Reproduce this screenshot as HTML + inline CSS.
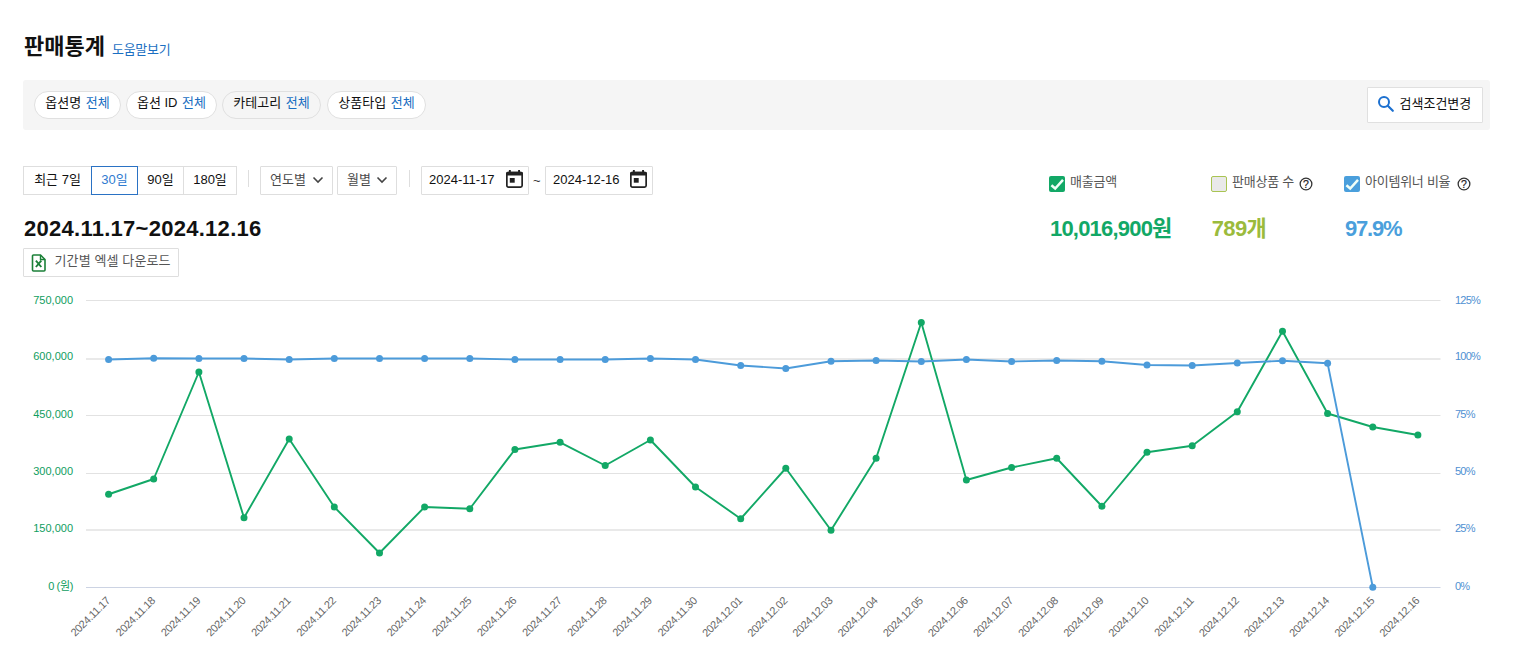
<!DOCTYPE html>
<html lang="ko">
<head>
<meta charset="utf-8">
<title>판매통계</title>
<style>
*{box-sizing:border-box;margin:0;padding:0}
html,body{width:1523px;height:660px;overflow:hidden;background:#fff}
body{position:relative;font-family:"Liberation Sans","Noto Sans CJK KR",sans-serif;font-size:13px;color:#111;line-height:1}
.abs{position:absolute;white-space:nowrap}
h1.title{left:24px;top:33px;font-size:22px;font-weight:bold;line-height:28px;color:#111;letter-spacing:0}
a.help{left:112px;top:40.5px;font-size:13px;line-height:18px;color:#1b6fc2;text-decoration:none;letter-spacing:-0.3px}
.bar{left:23px;top:80px;width:1467px;height:50px;background:#f5f5f5;border-radius:3px}
.pill{top:91px;height:28px;border:1px solid #e0e0e0;border-radius:14px;background:#fff;font-size:13px;line-height:22px;text-align:center;color:#111}
.pill b{font-weight:normal;color:#1b6fc2;margin-left:1px}
.pill.hov{background:#f5f5f5}
.sbtn{left:1367px;top:87px;width:116px;height:36px;background:#fff;border:1px solid #e0e0e0;border-radius:1px}
.sbtn span{position:absolute;left:31.5px;top:7px;font-size:13px;line-height:18px;color:#111}
.seg{top:166px;height:29px;border:1px solid #dedede;background:#fff;font-size:13px;line-height:25px;text-align:center;color:#111}
.seg.on{border-color:#2a72c4;color:#2f7bd0;z-index:2}
.vsep{top:170px;width:1px;height:17px;background:#dedede}
.sel{top:166px;height:29px;border:1px solid #dedede;background:#fff;font-size:13px;line-height:25px;color:#4a4a4a;border-radius:1px}
.sel span{position:absolute;left:9px;top:0}
.date{top:166px;width:108px;height:29px;border:1px solid #dedede;background:#fff;font-size:13px;line-height:25px;color:#111;border-radius:1px}
.date span{position:absolute;left:7px;top:0}
.range{left:24px;top:215.5px;font-size:22px;font-weight:bold;line-height:26px;color:#111;letter-spacing:0.27px}
.xl{left:23px;top:248px;width:156px;height:29px;border:1px solid #dedede;background:#fff;border-radius:1px}
.xl span{position:absolute;left:30.5px;top:3.3px;font-size:13px;line-height:18px;color:#555;letter-spacing:0.12px}
.cb{top:176px;width:16px;height:16px;border-radius:2px}
.lbl{top:173px;font-size:13px;line-height:18px;color:#555;letter-spacing:-0.25px}
.val{top:215px;font-size:22px;font-weight:bold;line-height:28px;letter-spacing:-0.6px}
svg{position:absolute;overflow:visible}
svg text{font-family:"Liberation Sans","Noto Sans CJK KR",sans-serif}
</style>
</head>
<body>
<h1 class="abs title">판매통계</h1>
<a class="abs help">도움말보기</a>

<div class="abs bar"></div>
<div class="abs pill" style="left:34px;width:87px">옵션명 <b>전체</b></div>
<div class="abs pill" style="left:126px;width:91px">옵션 ID <b>전체</b></div>
<div class="abs pill hov" style="left:222px;width:99px">카테고리 <b>전체</b></div>
<div class="abs pill" style="left:327px;width:99px">상품타입 <b>전체</b></div>
<div class="abs sbtn">
  <svg width="18" height="18" viewBox="0 0 18 18" style="left:9.3px;top:6.6px"><circle cx="7" cy="7" r="5" fill="none" stroke="#1c70d0" stroke-width="2"/><path d="M10.8 10.8L15.8 15.8" stroke="#1c70d0" stroke-width="2.2" stroke-linecap="round"/></svg>
  <span>검색조건변경</span>
</div>

<div class="abs seg" style="left:23px;width:69px">최근 7일</div>
<div class="abs seg on" style="left:91px;width:47px">30일</div>
<div class="abs seg" style="left:137px;width:47px">90일</div>
<div class="abs seg" style="left:183px;width:54px">180일</div>
<div class="abs vsep" style="left:248px"></div>
<div class="abs sel" style="left:260px;width:73px"><span>연도별</span>
  <svg width="12" height="8" viewBox="0 0 12 8" style="left:51px;top:9.3px"><path d="M1.5 1.5L6 6L10.5 1.5" fill="none" stroke="#444" stroke-width="1.6"/></svg></div>
<div class="abs sel" style="left:337px;width:60px"><span>월별</span>
  <svg width="12" height="8" viewBox="0 0 12 8" style="left:38px;top:9.3px"><path d="M1.5 1.5L6 6L10.5 1.5" fill="none" stroke="#444" stroke-width="1.6"/></svg></div>
<div class="abs vsep" style="left:409px"></div>
<div class="abs date" style="left:421px"><span>2024-11-17</span>
  <svg width="17" height="18" viewBox="0 0 17 18" style="left:84.2px;top:3.1px"><rect x="2.9" y="0" width="1.9" height="3" fill="#222"/><rect x="12.1" y="0" width="1.9" height="3" fill="#222"/><rect x="0.85" y="2.55" width="15.3" height="14.6" rx="1.6" fill="none" stroke="#222" stroke-width="1.7"/><path d="M0 5.4V3.3a1.6 1.6 0 0 1 1.6-1.6h13.8a1.6 1.6 0 0 1 1.6 1.6v2.1z" fill="#222"/><rect x="3.8" y="8" width="4.9" height="4.7" fill="#222"/></svg></div>
<div class="abs" style="left:533px;top:172px;font-size:13px;line-height:18px;color:#333">~</div>
<div class="abs date" style="left:545px"><span>2024-12-16</span>
  <svg width="17" height="18" viewBox="0 0 17 18" style="left:84.2px;top:3.1px"><rect x="2.9" y="0" width="1.9" height="3" fill="#222"/><rect x="12.1" y="0" width="1.9" height="3" fill="#222"/><rect x="0.85" y="2.55" width="15.3" height="14.6" rx="1.6" fill="none" stroke="#222" stroke-width="1.7"/><path d="M0 5.4V3.3a1.6 1.6 0 0 1 1.6-1.6h13.8a1.6 1.6 0 0 1 1.6 1.6v2.1z" fill="#222"/><rect x="3.8" y="8" width="4.9" height="4.7" fill="#222"/></svg></div>

<div class="abs range">2024.11.17~2024.12.16</div>
<div class="abs xl">
  <svg width="16" height="18" viewBox="0 0 16 18" style="left:7px;top:5px"><path d="M2.5 1h7l4.5 4.5V16a1 1 0 0 1-1 1h-10.5a1 1 0 0 1-1-1V2a1 1 0 0 1 1-1z" fill="#fff" stroke="#1b8038" stroke-width="1.6"/><path d="M9.5 1v4.5H14" fill="none" stroke="#1b8038" stroke-width="1.4"/><path d="M4.9 6.6l5.4 6.4M10.3 6.6l-5.4 6.4" stroke="#1b8038" stroke-width="1.9"/></svg>
  <span>기간별 엑셀 다운로드</span>
</div>

<!-- stats -->
<div class="abs cb" style="left:1049px;background:#12a866"><svg width="16" height="16" viewBox="0 0 16 16" style="left:0;top:0"><path d="M2.4 9.2L6.2 12.5L14 3.9" fill="none" stroke="#f0fff8" stroke-width="2.5"/></svg></div>
<div class="abs lbl" style="left:1070px">매출금액</div>
<div class="abs val" style="left:1050px;color:#12a866;letter-spacing:-0.8px">10,016,900원</div>

<div class="abs cb" style="left:1211px;background:#e9e9e9;border:1px solid #a9c452"></div>
<div class="abs lbl" style="left:1232px">판매상품 수</div>
<div class="abs val" style="left:1211.7px;color:#9bbb3c">789개</div>

<div class="abs cb" style="left:1344px;background:#4a9fdc"><svg width="16" height="16" viewBox="0 0 16 16" style="left:0;top:0"><path d="M2.4 9.2L6.2 12.5L14 3.9" fill="none" stroke="#f0fff8" stroke-width="2.5"/></svg></div>
<div class="abs lbl" style="left:1365px">아이템위너 비율</div>
<div class="abs val" style="left:1345px;color:#4a9fdc;letter-spacing:-1.2px">97.9%</div>

<svg width="14" height="14" viewBox="0 0 14 14" style="left:1299px;top:176.7px"><circle cx="7" cy="7" r="5.85" fill="#fff" stroke="#333" stroke-width="1.3"/><text x="7" y="10.7" font-size="10.5" fill="#222" stroke="#222" stroke-width="0.2" text-anchor="middle">?</text></svg>
<svg width="14" height="14" viewBox="0 0 14 14" style="left:1456.8px;top:176.7px"><circle cx="7" cy="7" r="5.85" fill="#fff" stroke="#333" stroke-width="1.3"/><text x="7" y="10.7" font-size="10.5" fill="#222" stroke="#222" stroke-width="0.2" text-anchor="middle">?</text></svg>
<!--CHART-->
<svg width="1523" height="660" viewBox="0 0 1523 660" style="left:0;top:0;pointer-events:none">
<path d="M86.0 300.5H1440.5" stroke="#e2e2e2" stroke-width="1" fill="none"/>
<path d="M86.0 359.0H1440.5" stroke="#e9e9e9" stroke-width="2" fill="none"/>
<path d="M86.0 415.5H1440.5" stroke="#e2e2e2" stroke-width="1" fill="none"/>
<path d="M86.0 473.5H1440.5" stroke="#e2e2e2" stroke-width="1" fill="none"/>
<path d="M86.0 530.0H1440.5" stroke="#e9e9e9" stroke-width="2" fill="none"/>
<path d="M86.0 587.5H1440.5" stroke="#ccd3e3" stroke-width="1" fill="none"/>
<g font-size="11" fill="#0f9d60" text-anchor="end">
<text x="73" y="304">750,000</text>
<text x="73" y="360">600,000</text>
<text x="73" y="418">450,000</text>
<text x="73" y="475">300,000</text>
<text x="73" y="532">150,000</text>
<text x="73" y="590" letter-spacing="-0.35">0 (원)</text>
</g>
<g font-size="11" fill="#4f90d2" text-anchor="start">
<text x="1455" y="304" letter-spacing="-0.8">125%</text>
<text x="1455" y="360" letter-spacing="-0.8">100%</text>
<text x="1455" y="418" letter-spacing="-0.8">75%</text>
<text x="1455" y="475" letter-spacing="-0.8">50%</text>
<text x="1455" y="532" letter-spacing="-0.8">25%</text>
<text x="1455" y="590" letter-spacing="-0.8">0%</text>
</g>
<g font-size="11" fill="#666" text-anchor="end" letter-spacing="-0.4">
<text x="110.8" y="601.5" transform="rotate(-45 110.8 601.5)">2024.11.17</text>
<text x="155.9" y="601.5" transform="rotate(-45 155.9 601.5)">2024.11.18</text>
<text x="201.1" y="601.5" transform="rotate(-45 201.1 601.5)">2024.11.19</text>
<text x="246.2" y="601.5" transform="rotate(-45 246.2 601.5)">2024.11.20</text>
<text x="291.4" y="601.5" transform="rotate(-45 291.4 601.5)">2024.11.21</text>
<text x="336.5" y="601.5" transform="rotate(-45 336.5 601.5)">2024.11.22</text>
<text x="381.7" y="601.5" transform="rotate(-45 381.7 601.5)">2024.11.23</text>
<text x="426.8" y="601.5" transform="rotate(-45 426.8 601.5)">2024.11.24</text>
<text x="472.0" y="601.5" transform="rotate(-45 472.0 601.5)">2024.11.25</text>
<text x="517.1" y="601.5" transform="rotate(-45 517.1 601.5)">2024.11.26</text>
<text x="562.3" y="601.5" transform="rotate(-45 562.3 601.5)">2024.11.27</text>
<text x="607.4" y="601.5" transform="rotate(-45 607.4 601.5)">2024.11.28</text>
<text x="652.6" y="601.5" transform="rotate(-45 652.6 601.5)">2024.11.29</text>
<text x="697.7" y="601.5" transform="rotate(-45 697.7 601.5)">2024.11.30</text>
<text x="742.9" y="601.5" transform="rotate(-45 742.9 601.5)">2024.12.01</text>
<text x="788.0" y="601.5" transform="rotate(-45 788.0 601.5)">2024.12.02</text>
<text x="833.2" y="601.5" transform="rotate(-45 833.2 601.5)">2024.12.03</text>
<text x="878.3" y="601.5" transform="rotate(-45 878.3 601.5)">2024.12.04</text>
<text x="923.5" y="601.5" transform="rotate(-45 923.5 601.5)">2024.12.05</text>
<text x="968.6" y="601.5" transform="rotate(-45 968.6 601.5)">2024.12.06</text>
<text x="1013.8" y="601.5" transform="rotate(-45 1013.8 601.5)">2024.12.07</text>
<text x="1058.9" y="601.5" transform="rotate(-45 1058.9 601.5)">2024.12.08</text>
<text x="1104.1" y="601.5" transform="rotate(-45 1104.1 601.5)">2024.12.09</text>
<text x="1149.2" y="601.5" transform="rotate(-45 1149.2 601.5)">2024.12.10</text>
<text x="1194.4" y="601.5" transform="rotate(-45 1194.4 601.5)">2024.12.11</text>
<text x="1239.5" y="601.5" transform="rotate(-45 1239.5 601.5)">2024.12.12</text>
<text x="1284.7" y="601.5" transform="rotate(-45 1284.7 601.5)">2024.12.13</text>
<text x="1329.8" y="601.5" transform="rotate(-45 1329.8 601.5)">2024.12.14</text>
<text x="1375.0" y="601.5" transform="rotate(-45 1375.0 601.5)">2024.12.15</text>
<text x="1420.1" y="601.5" transform="rotate(-45 1420.1 601.5)">2024.12.16</text>
</g>
<path d="M108.6 494.25 L153.7 479 L198.9 372 L244.0 517.75 L289.2 439 L334.3 507 L379.5 553 L424.6 507 L469.8 508.75 L514.9 449.5 L560.1 442.3 L605.2 465.5 L650.4 440 L695.5 487 L740.7 518.75 L785.8 468.25 L831.0 530.25 L876.1 458.25 L921.3 322.5 L966.4 480 L1011.6 467.5 L1056.7 458.25 L1101.9 506.25 L1147.0 452.2 L1192.2 445.7 L1237.3 411.75 L1282.5 331.25 L1327.6 413.5 L1372.8 427 L1417.9 435" fill="none" stroke="#12a866" stroke-width="1.9" stroke-linejoin="round" stroke-linecap="round"/>
<g fill="#12a866"><circle cx="108.6" cy="494.25" r="3.5"/><circle cx="153.7" cy="479" r="3.5"/><circle cx="198.9" cy="372" r="3.5"/><circle cx="244.0" cy="517.75" r="3.5"/><circle cx="289.2" cy="439" r="3.5"/><circle cx="334.3" cy="507" r="3.5"/><circle cx="379.5" cy="553" r="3.5"/><circle cx="424.6" cy="507" r="3.5"/><circle cx="469.8" cy="508.75" r="3.5"/><circle cx="514.9" cy="449.5" r="3.5"/><circle cx="560.1" cy="442.3" r="3.5"/><circle cx="605.2" cy="465.5" r="3.5"/><circle cx="650.4" cy="440" r="3.5"/><circle cx="695.5" cy="487" r="3.5"/><circle cx="740.7" cy="518.75" r="3.5"/><circle cx="785.8" cy="468.25" r="3.5"/><circle cx="831.0" cy="530.25" r="3.5"/><circle cx="876.1" cy="458.25" r="3.5"/><circle cx="921.3" cy="322.5" r="3.5"/><circle cx="966.4" cy="480" r="3.5"/><circle cx="1011.6" cy="467.5" r="3.5"/><circle cx="1056.7" cy="458.25" r="3.5"/><circle cx="1101.9" cy="506.25" r="3.5"/><circle cx="1147.0" cy="452.2" r="3.5"/><circle cx="1192.2" cy="445.7" r="3.5"/><circle cx="1237.3" cy="411.75" r="3.5"/><circle cx="1282.5" cy="331.25" r="3.5"/><circle cx="1327.6" cy="413.5" r="3.5"/><circle cx="1372.8" cy="427" r="3.5"/><circle cx="1417.9" cy="435" r="3.5"/></g>
<path d="M108.6 359.5 L153.7 358.25 L198.9 358.5 L244.0 358.5 L289.2 359.5 L334.3 358.5 L379.5 358.5 L424.6 358.5 L469.8 358.5 L514.9 359.5 L560.1 359.5 L605.2 359.5 L650.4 358.5 L695.5 359.5 L740.7 365.5 L785.8 368.5 L831.0 361.25 L876.1 360.5 L921.3 361.5 L966.4 359.5 L1011.6 361.5 L1056.7 360.5 L1101.9 361.25 L1147.0 365 L1192.2 365.5 L1237.3 363 L1282.5 360.75 L1327.6 363.25 L1372.8 587.3" fill="none" stroke="#4c9bda" stroke-width="1.9" stroke-linejoin="round" stroke-linecap="round"/>
<g fill="#4c9bda"><circle cx="108.6" cy="359.5" r="3.5"/><circle cx="153.7" cy="358.25" r="3.5"/><circle cx="198.9" cy="358.5" r="3.5"/><circle cx="244.0" cy="358.5" r="3.5"/><circle cx="289.2" cy="359.5" r="3.5"/><circle cx="334.3" cy="358.5" r="3.5"/><circle cx="379.5" cy="358.5" r="3.5"/><circle cx="424.6" cy="358.5" r="3.5"/><circle cx="469.8" cy="358.5" r="3.5"/><circle cx="514.9" cy="359.5" r="3.5"/><circle cx="560.1" cy="359.5" r="3.5"/><circle cx="605.2" cy="359.5" r="3.5"/><circle cx="650.4" cy="358.5" r="3.5"/><circle cx="695.5" cy="359.5" r="3.5"/><circle cx="740.7" cy="365.5" r="3.5"/><circle cx="785.8" cy="368.5" r="3.5"/><circle cx="831.0" cy="361.25" r="3.5"/><circle cx="876.1" cy="360.5" r="3.5"/><circle cx="921.3" cy="361.5" r="3.5"/><circle cx="966.4" cy="359.5" r="3.5"/><circle cx="1011.6" cy="361.5" r="3.5"/><circle cx="1056.7" cy="360.5" r="3.5"/><circle cx="1101.9" cy="361.25" r="3.5"/><circle cx="1147.0" cy="365" r="3.5"/><circle cx="1192.2" cy="365.5" r="3.5"/><circle cx="1237.3" cy="363" r="3.5"/><circle cx="1282.5" cy="360.75" r="3.5"/><circle cx="1327.6" cy="363.25" r="3.5"/><circle cx="1372.8" cy="587.3" r="3.5"/></g>
</svg>
<!--/CHART-->
</body>
</html>
